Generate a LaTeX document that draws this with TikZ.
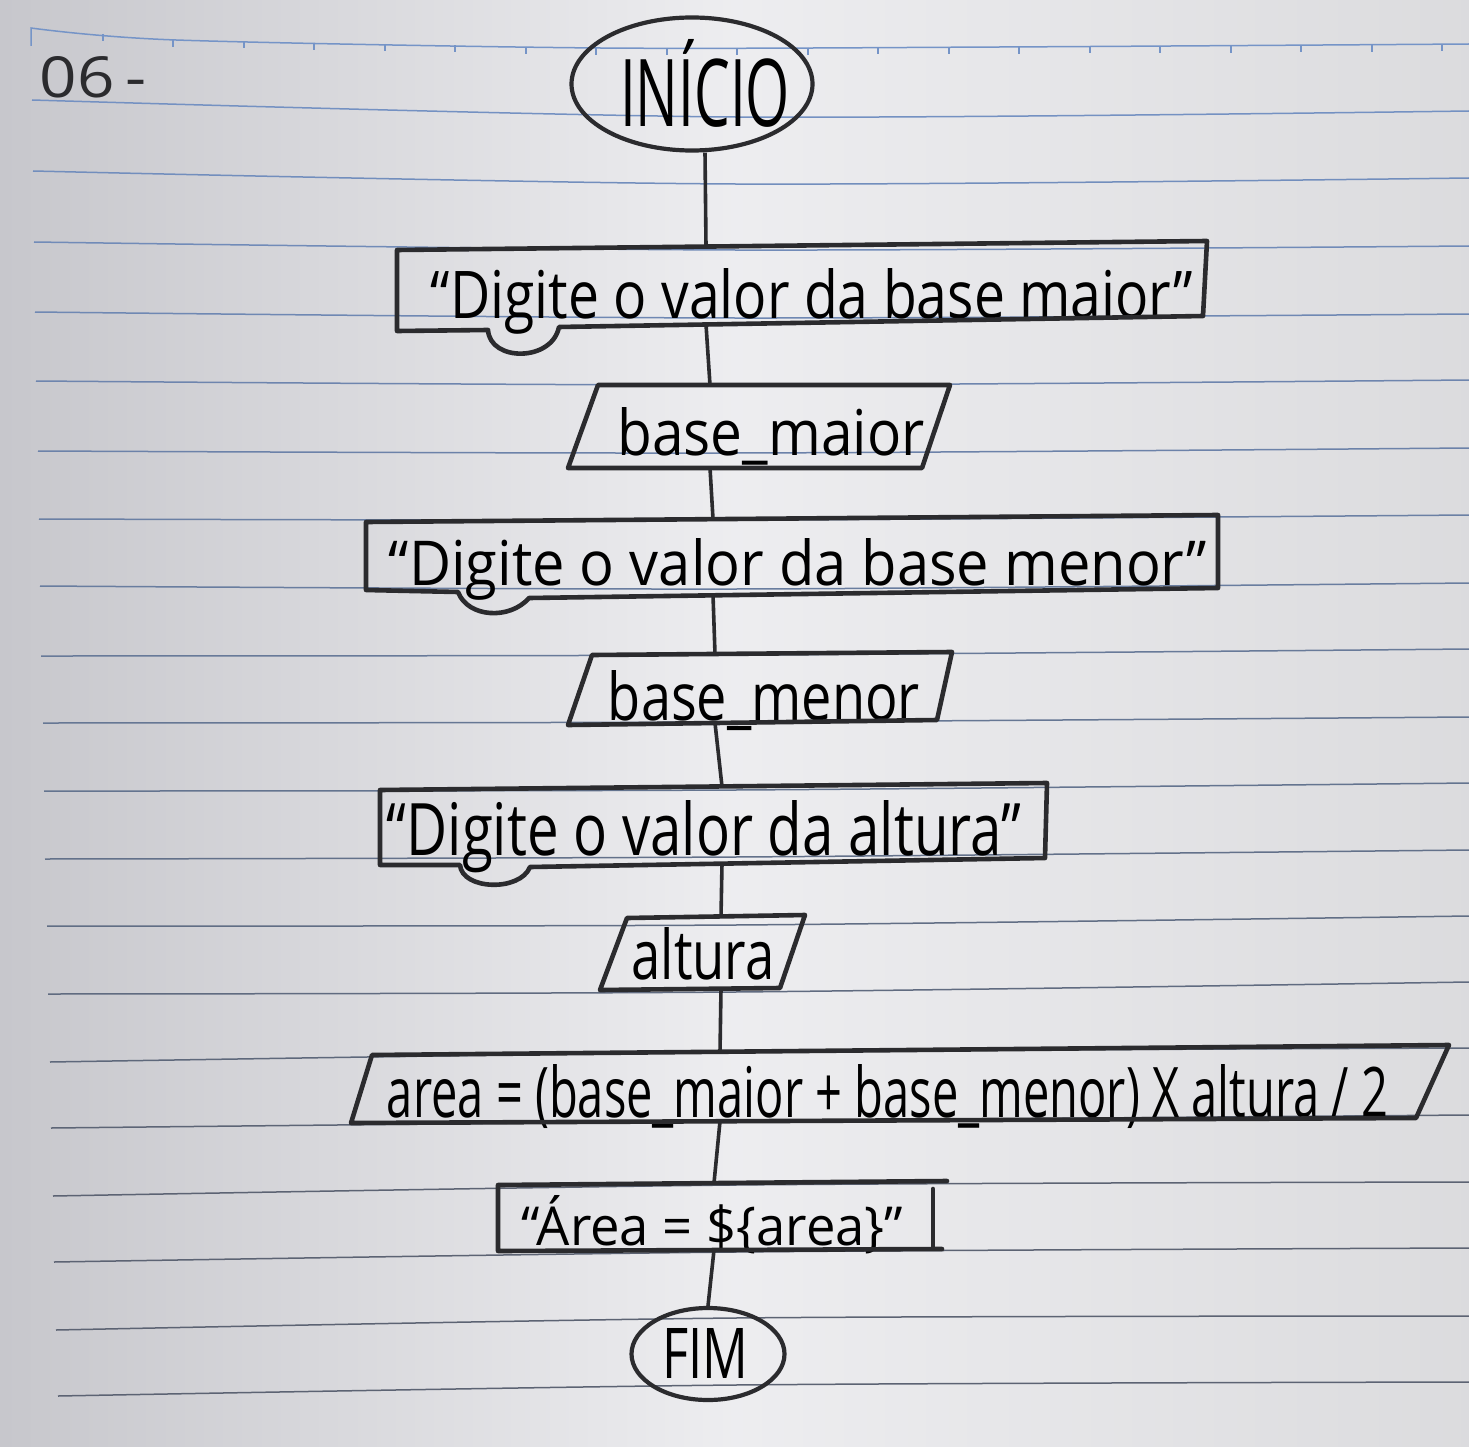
\documentclass[tikz,border=0pt]{standalone}
\usepackage{fontspec}
\usepackage{graphicx}
\newfontfamily\hand{Open Sans}
\usetikzlibrary{shapes.geometric}

\definecolor{paperdark}{rgb}{0.78,0.78,0.80}
\definecolor{paperlight}{rgb}{0.93,0.93,0.94}
\definecolor{paperright}{rgb}{0.86,0.86,0.87}
\definecolor{ink}{rgb}{0.17,0.17,0.18}
\definecolor{ruleblue}{rgb}{0.46,0.58,0.78}
\definecolor{rulegray}{rgb}{0.36,0.39,0.45}

% one handwritten line: x offset, raise, width, height, text
\newcommand\handtext[5]{\makebox[0pt]{\hspace*{#1}\hspace*{#1}\raisebox{#2}[0pt][0pt]{\resizebox{#3}{#4}{\hand #5}}}}

\begin{document}
\begin{tikzpicture}[x=1pt,y=-1pt,
  rule/.style={line width=1.5pt},
  outline/.style={draw=ink,line width=4.6pt,line join=round,line cap=round},
  link/.style={draw=ink,line width=3.6pt},
  frame/.style={inner sep=0pt,outer sep=0pt,minimum width=2pt},
  terminal/.style={ellipse,draw=ink,line width=4.2pt,inner sep=0pt},
  lbl/.style={inner sep=0pt,text=ink}]

% notebook page
\shade[left color=paperdark, right color=paperright, middle color=paperlight] (0,0) rectangle (1469,1447);
\useasboundingbox (0,0) rectangle (1469,1447);

% header line with ticks
\draw[rule,draw=ruleblue] (31,46) -- (31,28) -- plot[smooth] coordinates {(31,28) (176,40) (600,48) (1000,47) (1469,44)};
\foreach \tx/\ty in {103/34,173/40,244/41.3,314/42.6,385/44,455/45.3,526/46.6,596/48,667/48,737/48,808/47.7,878/47.5,949/47.3,1019/47,1090/46.5,1160/46,1231/45.6,1301/45.2,1372/44.7,1442/44.2}
  \draw[rule,draw=ruleblue] (\tx,\ty) -- ++(0,7);

% ruled lines
\foreach \yl/\ym/\yr/\xl [count=\i] in {100/117/111/32, 171/184/178/33, 242/250/246/34, 312/318/314/35, 381/385/380/36, 451/453/448/38, 519/520/515/39, 586/589/583/40, 656/655/649/41, 723/722/717/43, 791/790/783/44, 859/857/850/45, 926/925/916/47, 994/992/982/48, 1062/1052/1048/50, 1128/1121/1115/51, 1196/1185/1182/53, 1262/1252/1248/54, 1330/1318/1316/56, 1396/1385/1382/58}
{
  \pgfmathtruncatemacro\mixp{max(0,100-\i*6)}
  \draw[rule,draw=ruleblue!\mixp!rulegray] plot[smooth] coordinates {(\xl,\yl) (735,\ym) (1469,\yr)};
}

% exercise number
\node[lbl] (num) at (93.5,78) {\handtext{0pt}{-20pt}{107pt}{41pt}{06\,-}};

% start
\node[terminal, minimum width=241pt, minimum height=133pt] (inicio) at (692,84)
  {\handtext{13pt}{-43pt}{170pt}{87pt}{INÍCIO}};

% prompt: larger base
\node[frame, minimum height=78pt] (d1) at (706,285.5)
  {\handtext{106pt}{-32.5pt}{762pt}{50pt}{“Digite o valor da base maior”}};
\draw[outline] (397,250) -- (1207,241) -- (1203,316) -- (559,327)
  .. controls (552,362) and (490,362) .. (488,330) -- (397,331) -- cycle;

% input: base_maior
\node[frame, minimum height=83pt] (pm) at (710,426.5)
  {\handtext{61pt}{-28.5pt}{307pt}{48pt}{base\_maior}};
\draw[outline] (598,385) -- (950,385) -- (922,468) -- (568,468) -- cycle;

% prompt: smaller base
\node[frame, minimum height=76pt] (d2) at (713,557)
  {\handtext{85pt}{-28pt}{818pt}{47pt}{“Digite o valor da base menor”}};
\draw[outline] (366,522) -- (1218,515) -- (1218,588) -- (529,598)
  .. controls (510,620) and (468,618) .. (458,592) -- (366,590) -- cycle;

% input: base_menor
\node[frame, minimum height=69pt] (pn) at (715,688.5)
  {\handtext{49pt}{-31.5pt}{312pt}{50pt}{base\_menor}};
\draw[outline] (592,655) -- (952,652) -- (937,720) -- (568,725) -- cycle;

% prompt: height
\node[frame, minimum height=77pt] (d3) at (722,825)
  {\handtext{-18pt}{-30pt}{634pt}{55pt}{“Digite o valor da altura”}};
\draw[outline] (380,790) -- (1047,783) -- (1045,858) -- (530,867)
  .. controls (520,892) and (462,890) .. (460,865) -- (380,865) -- cycle;

% input: altura
\node[frame, minimum height=72.5pt] (pa) at (721,952.75)
  {\handtext{-18pt}{-27pt}{143pt}{52pt}{altura}};
\draw[outline] (627,918) -- (805,915) -- (780,988) -- (600,990) -- cycle;

% computation
\node[frame, minimum height=69.5pt] (pc) at (720,1086.5)
  {\handtext{167.5pt}{-30.5pt}{1001pt}{53pt}{area = (base\_maior + base\_menor) X altura / 2}};
\draw[outline] (372,1055) -- (1449,1045) -- (1416,1118) -- (351,1123) -- cycle;

% output
\node[frame, minimum height=67pt] (out) at (714,1216.5)
  {\handtext{-1.5pt}{-28.5pt}{381pt}{50pt}{“Área = \$\{area\}”}};
\draw[outline] (947,1181) -- (498,1185) -- (498,1251) -- (942,1249);
\draw[outline] (933,1189) -- (933,1248);

% end
\node[terminal, minimum width=153pt, minimum height=92pt] (fim) at (708,1354)
  {\handtext{-3pt}{-24pt}{86pt}{50pt}{FIM}};

% flow
\draw[link] ([xshift=13pt]inicio.south) -- (d1.north);
\draw[link] (d1.south) -- (pm.north);
\draw[link] (pm.south) -- (d2.north);
\draw[link] (d2.south) -- (pn.north);
\draw[link] (pn.south) -- (d3.north);
\draw[link] (d3.south) -- (pa.north);
\draw[link] (pa.south) -- (pc.north);
\draw[link] (pc.south) -- (out.north);
\draw[link] (out.south) -- (fim.north);
\end{tikzpicture}
\end{document}
